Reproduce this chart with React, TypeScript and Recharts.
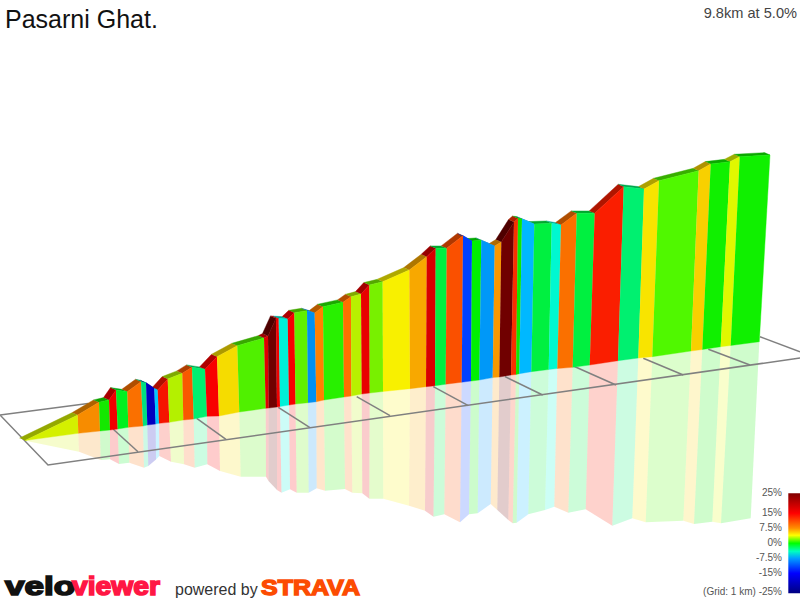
import { ScatterChart, Scatter, XAxis, YAxis, ReferenceArea } from "recharts";

// front top edge of the profile, vertex by vertex
const topX = [25, 77.7, 99, 109, 116, 127.3, 141, 146, 154.3, 157.7, 167.7, 182.3, 192, 205, 217, 237.3, 264, 268, 276, 278.7, 287.7, 294.3, 307, 314.7, 323, 343, 351, 361, 369.3, 382.7, 409.3, 426.7, 435.7, 446.7, 463, 472, 481.3, 494.7, 501.3, 514, 518, 522, 534.3, 551.7, 561, 576.7, 594.7, 623.7, 644, 659, 698.7, 710.7, 730, 739.7, 770];
const topY = [440.5, 415, 402.3, 400, 390, 391.7, 381.7, 382.7, 388.3, 390, 379, 373.3, 367.3, 369.3, 356.7, 345.7, 338, 336, 318.3, 318.5, 319, 312.7, 310.7, 313, 306.7, 302.3, 296.7, 294, 285, 281.7, 270, 256.7, 248.3, 248.3, 235.7, 241, 240.3, 246, 242, 222, 218.5, 219, 224, 223.3, 225, 213.3, 213.3, 186.7, 189, 180.7, 170.7, 164, 161.7, 156.7, 155];

// foot of the wall
const baseX = [25, 78.3, 100, 110, 117.7, 128.3, 143, 147.3, 155.7, 159, 169.3, 183.3, 193.7, 207, 219, 239.3, 265.7, 268.7, 277, 280, 289, 295.5, 308, 316.3, 324, 344, 351.3, 361.7, 369.7, 383, 410, 426, 435, 445.7, 461.7, 471, 479.3, 492.7, 499.3, 511, 516, 519.3, 531.3, 548.7, 557.3, 572.7, 589.7, 618, 638.3, 652.3, 691, 702.3, 720.7, 730.7, 759.3];
const baseY = [440.5, 433.3, 431, 430, 429, 427.3, 426, 425, 424, 423.3, 422.3, 420, 419, 416.3, 416, 412, 408.3, 408, 407, 406.5, 405, 404, 402.7, 401.7, 400, 397, 396, 394, 393, 391.5, 388.7, 386.7, 385.8, 384.2, 382.2, 381, 380, 377.6, 377, 375, 374.5, 373.7, 371.7, 369.5, 368.5, 367.3, 365, 360.7, 358, 356.7, 351, 349.5, 346.7, 345.5, 341.7];

// lower edge of the reflection
const mirrorX = [24, 79, 100.7, 110, 119, 129.3, 144, 148.3, 156, 159.3, 171, 184, 194.7, 207.3, 220, 240.7, 266, 268.5, 277, 281.5, 290, 296.7, 308.7, 316.7, 325, 345, 352.3, 362.3, 369.3, 383.3, 409, 425, 433.5, 444.3, 460, 469, 477.7, 490.7, 497.3, 508.3, 512.7, 516.7, 528.3, 545, 554.3, 568.3, 585.7, 612.3, 632.3, 645.7, 683.3, 694, 712.3, 721, 750.7];
const mirrorY = [440.5, 451.7, 460, 459.3, 464, 462.7, 467.7, 466, 459.5, 456, 461.7, 464.3, 467.7, 464.3, 471, 476.7, 476.7, 481, 490, 492.7, 489.3, 492.7, 492.7, 488.3, 490.7, 489, 492.7, 493.3, 498.7, 498.7, 505.7, 510.7, 516.7, 514.3, 522.3, 514.3, 513.3, 504, 510, 520, 523.3, 522.7, 514.3, 510, 506.7, 512.7, 509.3, 525.7, 518.3, 522.3, 520.7, 524, 521.7, 523.3, 518.3];

const segmentColors = ["#d4f000", "#f78c00", "#14e800", "#f00000", "#00f020", "#fa7000", "#00e080", "#0000c0", "#00c8ff", "#f51400", "#b4f000", "#f95800", "#00f070", "#f80000", "#f5dc00", "#50f000", "#e00000", "#700000", "#f00000", "#00f0d8", "#f80000", "#60f000", "#0090f0", "#ff8000", "#28f000", "#ff7000", "#b8f000", "#e80000", "#78f000", "#f8f000", "#f8a800", "#d80000", "#00f040", "#fa5000", "#0040ff", "#00f000", "#0098f8", "#f89800", "#700000", "#f83000", "#10e800", "#00b8ff", "#00f040", "#00f8d0", "#fa7000", "#00f040", "#fa1e00", "#00f070", "#f8e400", "#50f800", "#f8d000", "#10f000", "#e0f800", "#10f000"];

// grid: outer frame then the 1 km cross lines
const gridLines = [
  [[88, 403.5], [0, 415], [48, 465], [800, 358]],
  [[113, 429], [138, 451.7]],
  [[196.7, 418.3], [226, 439.3]],
  [[278.3, 407.3], [310, 427.7]],
  [[356.7, 396.7], [390, 415.7]],
  [[433.3, 386.7], [468.3, 405.7]],
  [[505, 376.7], [542.7, 395]],
  [[573.3, 366], [616, 385]],
  [[643.3, 358.3], [683.3, 375]],
  [[708.3, 349.3], [750, 365]],
  [[760, 336.7], [800, 351.7]],
];

const legendTicks = [
  { label: "25%", y: 496 },
  { label: "15%", y: 516 },
  { label: "7.5%", y: 531 },
  { label: "0%", y: 546 },
  { label: "-7.5%", y: 560.5 },
  { label: "-15%", y: 576 },
  { label: "(Grid: 1 km) -25%", y: 595 },
];
const legendStops = [
  ["0%", "#800000"],
  ["20%", "#ff0000"],
  ["35%", "#ff9000"],
  ["42%", "#ffff00"],
  ["50%", "#00ff00"],
  ["58%", "#00ffc0"],
  ["65%", "#00a0ff"],
  ["80%", "#0000ff"],
  ["100%", "#000080"],
];

const RIBBON_DX = -5.5;
const RIBBON_DY = -2.4;
const FONT = "'Liberation Sans', Arial, sans-serif";

type Pt = { x: number; y: number };

function shade(hex: string, k: number) {
  const n = parseInt(hex.slice(1), 16);
  const r = Math.round(((n >> 16) & 255) * k);
  const g = Math.round(((n >> 8) & 255) * k);
  const b = Math.round((n & 255) * k);
  return `rgb(${r},${g},${b})`;
}

const faces: Pt[][] = segmentColors.map((_, i) => [
  { x: topX[i], y: topY[i] },
  { x: topX[i + 1], y: topY[i + 1] },
  { x: baseX[i + 1], y: baseY[i + 1] },
  { x: baseX[i], y: baseY[i] },
]);
const ribbons: Pt[][] = segmentColors.map((_, i) => [
  { x: topX[i] + RIBBON_DX, y: topY[i] + RIBBON_DY },
  { x: topX[i + 1] + RIBBON_DX, y: topY[i + 1] + RIBBON_DY },
  { x: topX[i + 1], y: topY[i + 1] },
  { x: topX[i], y: topY[i] },
]);
const mirrors: Pt[][] = segmentColors.map((_, i) => [
  { x: baseX[i], y: baseY[i] },
  { x: baseX[i + 1], y: baseY[i + 1] },
  { x: mirrorX[i + 1], y: mirrorY[i + 1] },
  { x: mirrorX[i], y: mirrorY[i] },
]);

const noDot = () => <g />;

function quad(key: string, data: Pt[], fill: string, opacity = 1) {
  return (
    <Scatter
      key={key}
      data={data}
      shape={noDot}
      line={{ fill, fillOpacity: opacity, stroke: fill, strokeOpacity: opacity < 1 ? 0 : 1, strokeWidth: 0.4 }}
      isAnimationActive={false}
    />
  );
}

export default function App() {
  return (
    <div style={{ position: "absolute", left: 0, top: 0, width: 800, height: 600, background: "#fff" }}>
      <ScatterChart width={800} height={600} margin={{ top: 0, right: 0, bottom: 0, left: 0 }}>
        <defs>
          <linearGradient id="gradeScale" x1="0" y1="0" x2="0" y2="1">
            {legendStops.map(([offset, color]) => (
              <stop key={offset} offset={offset} stopColor={color} />
            ))}
          </linearGradient>
        </defs>
        <XAxis type="number" dataKey="x" domain={[0, 800]} hide allowDataOverflow />
        <YAxis type="number" dataKey="y" domain={[0, 600]} reversed hide allowDataOverflow />

        {mirrors.map((m, i) => quad(`m${i}`, m, segmentColors[i], 0.2))}
        {gridLines.map((g, i) => (
          <Scatter
            key={`g${i}`}
            data={g.map(([x, y]) => ({ x, y }))}
            shape={noDot}
            line={{ stroke: "#808080", strokeWidth: 1.5, fill: "none" }}
            isAnimationActive={false}
          />
        ))}
        {ribbons.map((r, i) => quad(`r${i}`, r, shade(segmentColors[i], 0.7)))}
        {faces.map((f, i) => quad(`f${i}`, f, segmentColors[i]))}

        <ReferenceArea x1={788.3} x2={800} y1={493.3} y2={593.3} fill="url(#gradeScale)" fillOpacity={1} stroke="none" />

        <text x={5} y={28} fontFamily={FONT} fontSize={25} fill="#111">Pasarni Ghat.</text>
        <text x={797} y={18} textAnchor="end" fontFamily={FONT} fontSize={14.6} fill="#444">9.8km at 5.0%</text>
        {legendTicks.map((t) => (
          <text key={t.label} x={782} y={t.y} textAnchor="end" fontFamily={FONT} fontSize={10} fill="#555">
            {t.label}
          </text>
        ))}
        <text x={5} y={594.5} fontFamily={FONT} fontWeight="bold" fontSize={26} fill="#111" stroke="#111" strokeWidth={1.6} textLength={70} lengthAdjust="spacingAndGlyphs">velo</text>
        <text x={72} y={594.5} fontFamily={FONT} fontWeight="bold" fontSize={26} fill="#ff1744" stroke="#ff1744" strokeWidth={1.6} textLength={88} lengthAdjust="spacingAndGlyphs">viewer</text>
        <text x={175} y={595} fontFamily={FONT} fontSize={16} fill="#333">powered by</text>
        <text x={261} y={595.3} fontFamily={FONT} fontWeight="bold" fontSize={22} fill="#fc4c02" stroke="#fc4c02" strokeWidth={1.4} textLength={99} lengthAdjust="spacingAndGlyphs">STRAVA</text>
      </ScatterChart>
    </div>
  );
}
